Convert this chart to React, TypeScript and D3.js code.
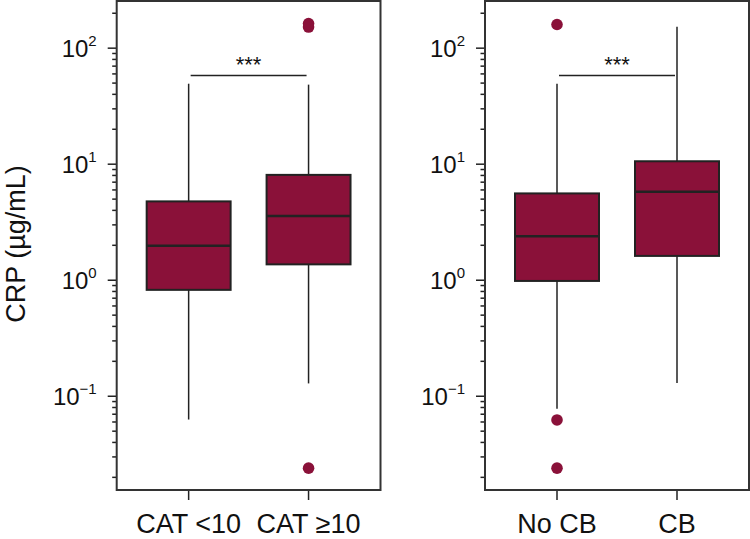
import * as d3 from 'd3'

// Two panels, log-scaled CRP
const leftGroups = ['CAT <10', 'CAT ≥10']
const rightGroups = ['No CB', 'CB']

// [lowWhisker, q1, median, q3, highWhisker]
const leftStats = [
  [0.063, 0.826, 1.98, 4.78, 49.4],
  [0.129, 1.37, 3.57, 8.09, 48.5],
]
const rightStats = [
  [0.078, 0.986, 2.39, 5.6, 49.4],
  [0.13, 1.62, 5.78, 10.6, 153],
]
const leftOutliers = [[], [152, 163, 0.024]]
const rightOutliers = [[160, 0.0625, 0.024], []]

const yDomain: [number, number] = [0.01556, 255]
const majorTicks = [0.1, 1, 10, 100]
const exponents = ['−1', '0', '1', '2']

const FILL = '#8a1139'
const INK = '#222'
const FONT = '"Liberation Sans", Arial, Helvetica, sans-serif'

interface PanelProps {
  x0: number
  x1: number
  groups: string[]
  stats: number[][]
  outliers: number[][]
  y: d3.ScaleLogarithmic<number, number>
  top: number
  bottom: number
}

function Panel({ x0, x1, groups, stats, outliers, y, top, bottom }: PanelProps) {
  const x = d3.scalePoint<string>().domain(groups).range([x0, x1]).padding(0.6)
  const boxW = x.step() * 0.7
  const minorTicks: number[] = []
  for (let e = -2; e <= 2; e++) {
    for (let m = 2; m <= 9; m++) {
      const v = m * Math.pow(10, e)
      if (v >= yDomain[0] && v <= yDomain[1]) minorTicks.push(v)
    }
  }
  const sigY = 75.5
  const cx0 = x(groups[0])!
  const cx1 = x(groups[1])!
  return (
    <g>
      {minorTicks.map((t) => (
        <line key={'m' + t} x1={x0 - 4.5} x2={x0} y1={y(t)} y2={y(t)} stroke={INK} strokeWidth={1.5} />
      ))}
      {majorTicks.map((t, i) => (
        <g key={'M' + t}>
          <line x1={x0 - 9} x2={x0} y1={y(t)} y2={y(t)} stroke={INK} strokeWidth={1.5} />
          <text x={x0 - 20} y={y(t)} dy="0.35em" textAnchor="end" fontSize={24} fontFamily={FONT} fill="#111">
            10
            <tspan fontSize={15} dy={-11}>{exponents[i]}</tspan>
          </text>
        </g>
      ))}
      {groups.map((g, i) => {
        const [lo, q1, med, q3, hi] = stats[i]
        const cx = x(g)!
        return (
          <g key={g}>
            <line x1={cx} x2={cx} y1={y(hi)} y2={y(q3)} stroke={INK} strokeWidth={1.5} />
            <line x1={cx} x2={cx} y1={y(q1)} y2={y(lo)} stroke={INK} strokeWidth={1.5} />
            <rect x={cx - boxW / 2} y={y(q3)} width={boxW} height={y(q1) - y(q3)} fill={FILL} stroke={INK} strokeWidth={2} />
            <line x1={cx - boxW / 2} x2={cx + boxW / 2} y1={y(med)} y2={y(med)} stroke={INK} strokeWidth={2.5} />
            {outliers[i].map((o, j) => (
              <circle key={j} cx={cx} cy={y(o)} r={5.8} fill={FILL} />
            ))}
            <line x1={cx} x2={cx} y1={bottom} y2={bottom + 10} stroke={INK} strokeWidth={1.5} />
            <text x={cx} y={533} textAnchor="middle" fontSize={27} fontFamily={FONT} fill="#111">
              {g}
            </text>
          </g>
        )
      })}
      <line x1={cx0 + 2} x2={cx1 - 2} y1={sigY} y2={sigY} stroke={INK} strokeWidth={1.5} />
      <text x={(cx0 + cx1) / 2} y={72} textAnchor="middle" fontSize={22} fontFamily={FONT} fill="#111">
        ***
      </text>
      <rect x={x0} y={top} width={x1 - x0} height={bottom - top} fill="none" stroke="#333" strokeWidth={2} />
    </g>
  )
}

export default function App() {
  const width = 750
  const height = 539
  const top = 1
  const bottom = 490
  const y = d3.scaleLog().domain(yDomain).range([bottom, top])
  return (
    <svg width={width} height={height} style={{ position: 'absolute', left: 0, top: 0 }}>
      <rect width={width} height={height} fill="#fff" />
      <Panel x0={116.7} x1={380.5} groups={leftGroups} stats={leftStats} outliers={leftOutliers} y={y} top={top} bottom={bottom} />
      <Panel x0={485} x1={749} groups={rightGroups} stats={rightStats} outliers={rightOutliers} y={y} top={top} bottom={bottom} />
      <text transform="translate(25,244) rotate(-90)" textAnchor="middle" fontSize={27} fontFamily={FONT} fill="#111">
        CRP (µg/mL)
      </text>
    </svg>
  )
}
